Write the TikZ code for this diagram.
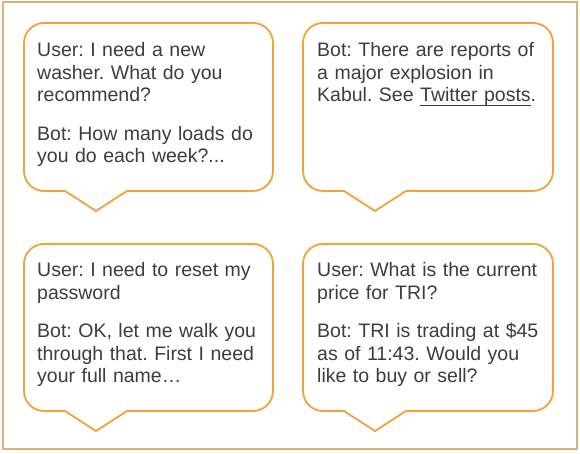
\documentclass[tikz,border=0pt]{standalone}
\usepackage{fontspec}
\setmainfont{Liberation Sans}
\frenchspacing
\definecolor{framecol}{HTML}{D9B27C}
\definecolor{bubcol}{HTML}{EEA43A}
\definecolor{txtcol}{HTML}{3D3D3D}
\newcommand\ulink[1]{\setbox0\hbox{#1}\rlap{\raisebox{-3.5pt}{\rule{\wd0}{0.9pt}}}\box0}
% x1 x2 ybottom ytop tipx
\newcommand\speechbubble[5]{%
  \draw[bubble] ({#5+31},#3) -- ({#2-20},#3)
    arc[start angle=-90,end angle=0,radius=20] -- (#2,{#4-20})
    arc[start angle=0,end angle=90,radius=20] -- ({#1+20},#4)
    arc[start angle=90,end angle=180,radius=20] -- (#1,{#3+20})
    arc[start angle=180,end angle=270,radius=20] -- ({#5-31},#3)
    -- (#5,{#3-20}) -- cycle;}
\begin{document}
\begin{tikzpicture}[x=1pt,y=1pt,
  bubble/.style={draw=bubcol,line width=1.8pt,fill=white,line join=miter},
  msg/.style={anchor=base west,inner sep=0pt,text width=245pt,align=left,
    font=\fontsize{19.5}{22.5}\selectfont\frenchspacing,text=txtcol}]
\useasboundingbox (0,0) rectangle (580,454);
\fill[white] (0,0) rectangle (580,454);
\draw[framecol,line width=2pt] (2.5,5) rectangle (576.5,451.5);
\speechbubble{24}{273}{263}{431}{96}
\speechbubble{303}{553}{263}{431}{375}
\speechbubble{24}{273}{43}{210}{96}
\speechbubble{303}{553}{43}{210}{375}
\node[msg] (t1) at (37,397) {User: I need a new\\ washer. What do you\\ recommend?\\[16pt] Bot: How many loads do\\ you do each week?...};
\node[msg] (t2) at (317,397) {Bot: There are reports of\\ a major explosion in\\ Kabul. See \ulink{Twitter posts}.};
\node[msg] (t3) at (37,177) {User: I need to reset my\\ password\\[16pt] Bot: OK, let me walk you\\ through that. First I need\\ your full name…};
\node[msg] (t4) at (317,177) {User: What is the current\\ price for TRI?\\[16pt] Bot: TRI is trading at \$45\\ as of 11:43. Would you\\ like to buy or sell?};
\end{tikzpicture}
\end{document}
